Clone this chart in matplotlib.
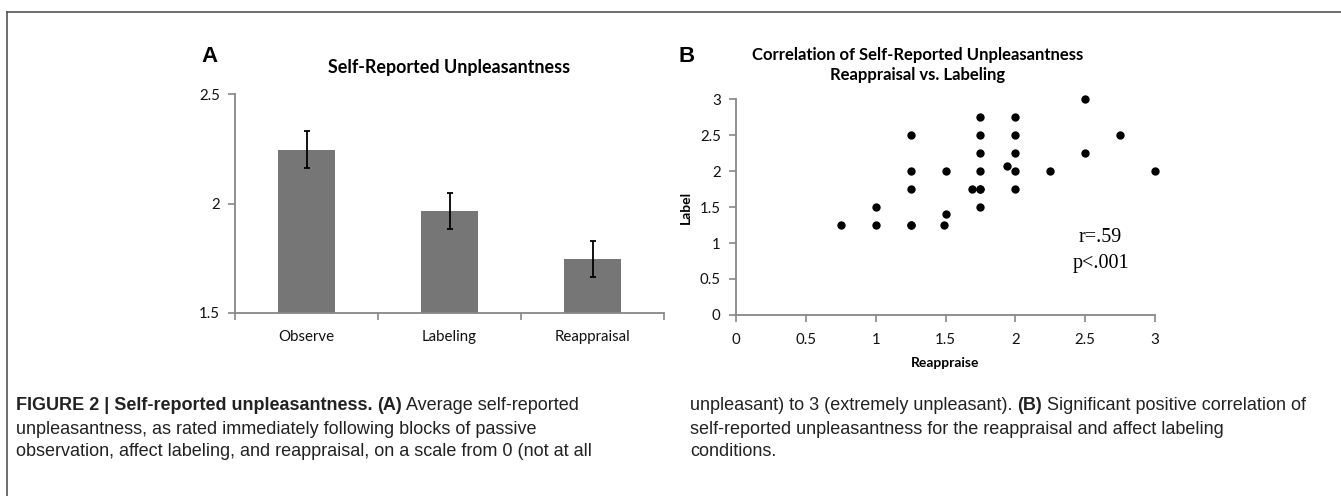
import matplotlib
matplotlib.use("Agg")
import matplotlib.pyplot as plt
from matplotlib.lines import Line2D

# panel A: mean ratings and error bars
conditions = ["Observe", "Labeling", "Reappraisal"]
mean_rating = [2.245, 1.965, 1.748]
err_rating = [0.084, 0.081, 0.082]

# panel B: reappraise (x) vs label (y)
reappraise = [0.75, 1.0, 1.0, 1.25, 1.25, 1.25, 1.25, 1.25, 1.5, 1.5, 1.49,
              1.69, 1.75, 1.75, 1.75, 1.75, 1.75, 1.75, 1.75, 1.94,
              2.0, 2.0, 2.0, 2.0, 2.0, 2.25, 2.5, 2.5, 2.75, 3.0]
label = [1.25, 1.5, 1.25, 2.5, 2.0, 1.75, 1.25, 1.25, 2.0, 1.4, 1.25,
         1.75, 2.75, 2.5, 2.25, 2.0, 1.75, 1.75, 1.5, 2.07,
         2.75, 2.5, 2.25, 2.0, 1.75, 2.0, 3.0, 2.25, 2.5, 2.0]

W, H = 1341, 496
fig = plt.figure(figsize=(W / 100, H / 100), dpi=100)
chart_font = "Lato"
axis_col = "#878787"


def px_axes(l, t, r, b):
    return fig.add_axes([l / W, 1 - b / H, (r - l) / W, (b - t) / H])


def style(ax):
    for s in ["top", "right"]:
        ax.spines[s].set_visible(False)
    for s in ["left", "bottom"]:
        ax.spines[s].set_color(axis_col)
        ax.spines[s].set_linewidth(1.3)
    ax.tick_params(which="both", color=axis_col, width=1.2, length=5,
                   labelsize=10.8, labelcolor="#111111")
    for t in ax.get_xticklabels() + ax.get_yticklabels():
        t.set_fontfamily(chart_font)


# ---- A
axA = px_axes(235, 94, 664, 313)
xs = range(len(conditions))
axA.bar(xs, [m - 1.5 for m in mean_rating], bottom=1.5, width=0.4, color="#767676", zorder=2)
axA.errorbar(xs, mean_rating, yerr=err_rating, fmt="none", ecolor="black",
             elinewidth=1.3, capsize=2.5, capthick=1.3, zorder=3)
axA.set_xlim(-0.5, 2.5)
axA.set_ylim(1.5, 2.5)
axA.set_yticks([1.5, 2, 2.5])
axA.set_yticklabels(["1.5", "2", "2.5"])
axA.set_xticks(list(xs))
axA.set_xticklabels(conditions)
axA.set_xticks([-0.5, 0.5, 1.5, 2.5], minor=True)
style(axA)
axA.tick_params(axis="x", which="major", length=0, pad=12)
axA.tick_params(axis="y", pad=6)
axA.set_title("Self-Reported Unpleasantness", fontfamily=chart_font, fontweight="bold",
              fontsize=12.9, pad=15)

# ---- B
axB = px_axes(736, 99, 1155, 315)
axB.scatter(reappraise, label, s=36, color="black", zorder=3, linewidths=0, clip_on=False)
axB.set_xlim(0, 3)
axB.set_ylim(0, 3)
axB.set_xticks([0, 0.5, 1, 1.5, 2, 2.5, 3])
axB.set_xticklabels(["0", "0.5", "1", "1.5", "2", "2.5", "3"])
axB.set_yticks([0, 0.5, 1, 1.5, 2, 2.5, 3])
axB.set_yticklabels(["0", "0.5", "1", "1.5", "2", "2.5", "3"])
style(axB)
axB.tick_params(axis="x", pad=8)
axB.tick_params(axis="y", pad=6)
axB.set_xlabel("Reappraise", fontfamily=chart_font, fontweight="bold", fontsize=10, labelpad=7)
axB.set_ylabel("Label", fontfamily=chart_font, fontweight="bold", fontsize=10, labelpad=6)
axB.set_title("Correlation of Self-Reported Unpleasantness\nReappraisal vs. Labeling",
              fontfamily=chart_font, fontweight="bold", fontsize=12, pad=14,
              x=1.30 / 3, linespacing=1.25)
axB.text(2.61, 1.08, "r=.59", ha="center", va="center", fontfamily="Liberation Serif", fontsize=14.5)
axB.text(2.61, 0.72, "p<.001", ha="center", va="center", fontfamily="Liberation Serif", fontsize=14.5)

# panel letters
fig.text(209 / W, 1 - 56 / H, "A", fontfamily="Liberation Sans", fontweight="bold",
         fontsize=16, ha="center", va="center")
fig.text(687 / W, 1 - 57 / H, "B", fontfamily="Liberation Sans", fontweight="bold",
         fontsize=16, ha="center", va="center")

# frame (top and left)
fig.add_artist(Line2D([7 / W, 1], [1 - 12 / H, 1 - 12 / H], color="#555555", lw=1.2))
fig.add_artist(Line2D([7 / W, 7 / W], [0, 1 - 12 / H], color="#555555", lw=1.2))

# caption
cap_font = "Liberation Sans"
cap_size = 13
cap_col = "#222222"
fig.canvas.draw()
renderer = fig.canvas.get_renderer()


def caption_line(x_px, y_px, pieces):
    x = x_px
    for txt, bold in pieces:
        t = fig.text(x / W, 1 - y_px / H, txt, fontfamily=cap_font, fontsize=cap_size,
                     fontweight="bold" if bold else "normal", color=cap_col, va="center")
        x += t.get_window_extent(renderer).width


caption_line(16, 406, [("FIGURE 2 | Self-reported unpleasantness.", True), (" ", False),
                       ("(A)", True), (" Average self-reported", False)])
caption_line(16, 429, [("unpleasantness, as rated immediately following blocks of passive", False)])
caption_line(16, 452, [("observation, affect labeling, and reappraisal, on a scale from 0 (not at all", False)])
caption_line(690, 406, [("unpleasant) to 3 (extremely unpleasant). ", False), ("(B)", True),
                        (" Significant positive correlation of", False)])
caption_line(690, 429, [("self-reported unpleasantness for the reappraisal and affect labeling", False)])
caption_line(690, 452, [("conditions.", False)])

fig.savefig("out.png", dpi=100)
